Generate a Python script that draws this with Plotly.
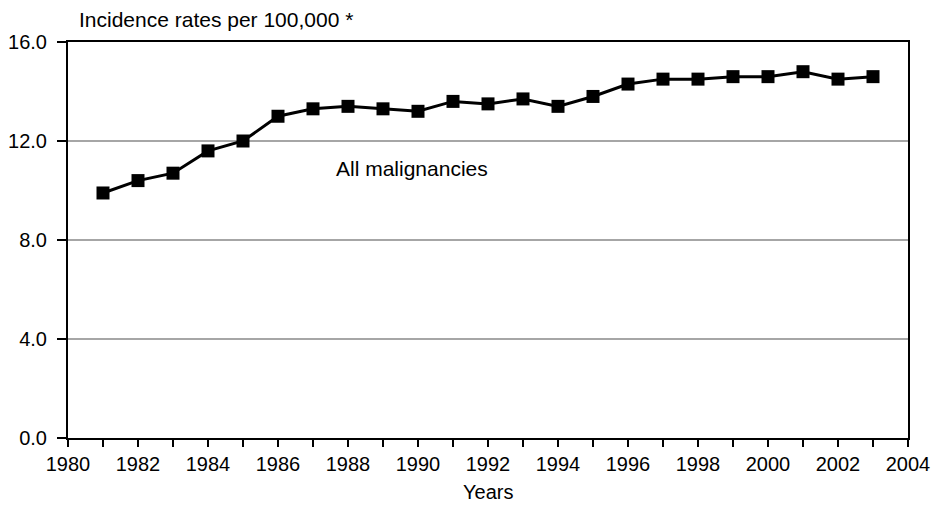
import plotly.graph_objects as go

years = list(range(1981, 2004))
rates = [9.9, 10.4, 10.7, 11.6, 12.0, 13.0, 13.3, 13.4, 13.3, 13.2, 13.6, 13.5, 13.7,
         13.4, 13.8, 14.3, 14.5, 14.5, 14.6, 14.6, 14.8, 14.5, 14.6]
series_label = "All malignancies"
y_title = "Incidence rates per 100,000 *"
x_title = "Years"

FONT = "Liberation Sans, Arial, sans-serif"

fig = go.Figure()
fig.add_trace(go.Scatter(
    x=years, y=rates, mode="lines+markers",
    line=dict(color="black", width=3),
    marker=dict(symbol="square", size=13, color="black"),
    showlegend=False, cliponaxis=False,
))

fig.add_annotation(x=1989.83, y=10.9, text=series_label, showarrow=False,
                   font=dict(family=FONT, size=21, color="black"))
fig.add_annotation(xref="paper", yref="paper", x=0.0107, y=1.0, yshift=23,
                   xanchor="left", yanchor="middle", text=y_title, showarrow=False,
                   font=dict(family=FONT, size=21, color="black"))
fig.add_annotation(xref="paper", yref="paper", x=0.5, y=0.0, yshift=-54,
                   xanchor="center", yanchor="middle", text=x_title, showarrow=False,
                   font=dict(family=FONT, size=20, color="black"))

fig.update_xaxes(range=[1980, 2004], tickmode="linear", tick0=1980, dtick=2,
                 ticks="outside", ticklen=7, tickcolor="black", tickwidth=1.5,
                 minor=dict(dtick=1, tick0=1980, ticks="outside", ticklen=7,
                            tickcolor="black", tickwidth=1.5, showgrid=False),
                 showline=True, linecolor="black", linewidth=2, mirror=True,
                 showgrid=False, zeroline=False,
                 tickfont=dict(family=FONT, size=20, color="black"))
fig.update_yaxes(range=[0, 16], tickmode="linear", tick0=0, dtick=4, tickformat=".1f",
                 ticks="outside", ticklen=9, tickcolor="black", tickwidth=1.5,
                 ticklabelstandoff=6,
                 showline=True, linecolor="black", linewidth=2, mirror=True,
                 showgrid=True, gridcolor="#a6a6a6", gridwidth=2, zeroline=False,
                 tickfont=dict(family=FONT, size=20, color="black"))

fig.update_layout(width=935, height=516, autosize=False,
                  margin=dict(l=68, r=27, t=42, b=78, autoexpand=False),
                  plot_bgcolor="white", paper_bgcolor="white",
                  font=dict(family=FONT, color="black"))

fig.write_html(
    "out.html",
    config={"displayModeBar": False},
    post_script="document.body.style.margin='0';"
                "document.documentElement.style.overflow='hidden';",
)
